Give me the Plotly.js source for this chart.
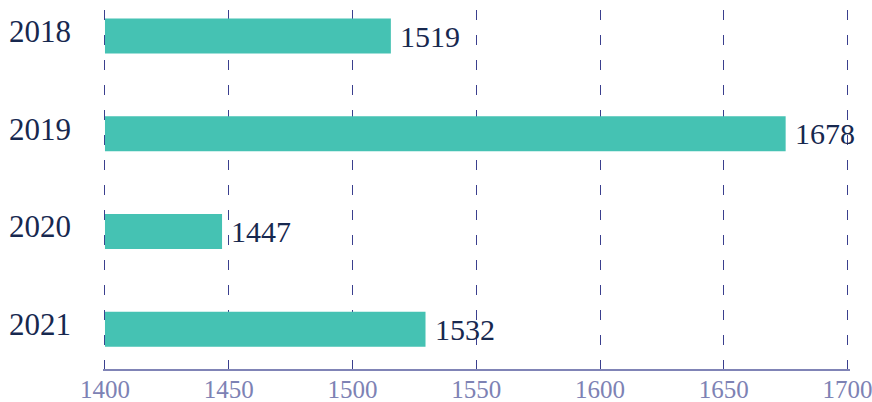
<!DOCTYPE html>
<html>
<head>
<meta charset="utf-8">
<script src="https://cdn.plot.ly/plotly-3.0.1.min.js"></script>
<style>html,body{margin:0;padding:0;background:#fff;}#chart{width:872px;height:402px;}</style>
</head>
<body>
<div id="chart"></div>
<script>
const years = ['2018', '2019', '2020', '2021'];
const barValues = [1515.5, 1675, 1447.3, 1529.5];
const labelValues = [1519, 1678, 1447, 1532];
const xTicks = [1400, 1450, 1500, 1550, 1600, 1650, 1700];
const axisStart = 1400;

const FONT = '"Palatino Linotype", Palatino, "Book Antiqua", "Liberation Serif", serif';

const trace = {
  type: 'bar',
  orientation: 'h',
  y: years,
  base: axisStart,
  x: barValues.map(v => v - axisStart),
  width: 0.357,
  marker: {color: '#45c2b3'},
  hoverinfo: 'none'
};

const annotations = years.map((y, i) => ({
  x: barValues[i], y: i, xref: 'x', yref: 'y',
  text: String(labelValues[i]),
  showarrow: false, xanchor: 'left', yanchor: 'middle',
  xshift: 7, yshift: 0,
  font: {family: FONT, size: 30, color: '#17284f'}
}));

const layout = {
  width: 872, height: 402,
  margin: {l: 103, r: 22, t: 10, b: 33},
  paper_bgcolor: '#ffffff', plot_bgcolor: '#ffffff',
  showlegend: false,
  xaxis: {
    range: [1399.2, 1701],
    tickvals: xTicks,
    ticktext: xTicks.map(String),
    showgrid: true, gridcolor: '#3a3f8e', gridwidth: 1, griddash: '10px,15px',
    zeroline: false,
    showline: true, linecolor: '#8084b6', linewidth: 1.5,
    ticks: '',
    ticklabelstandoff: -3,
    ticklabeloverflow: 'allow',
    tickfont: {family: FONT, size: 25, color: '#7d82b4'},
    fixedrange: true
  },
  yaxis: {
    type: 'category',
    categoryorder: 'array', categoryarray: years,
    range: [3.406, -0.266],
    showgrid: false, zeroline: false, showline: false,
    ticks: '',
    ticklabelstandoff: 31,
    ticklabelshift: 5,
    tickfont: {family: FONT, size: 31, color: '#17284f'},
    fixedrange: true
  },
  annotations: annotations
};

Plotly.newPlot('chart', [trace], layout, {displayModeBar: false, staticPlot: true});
</script>
</body>
</html>
